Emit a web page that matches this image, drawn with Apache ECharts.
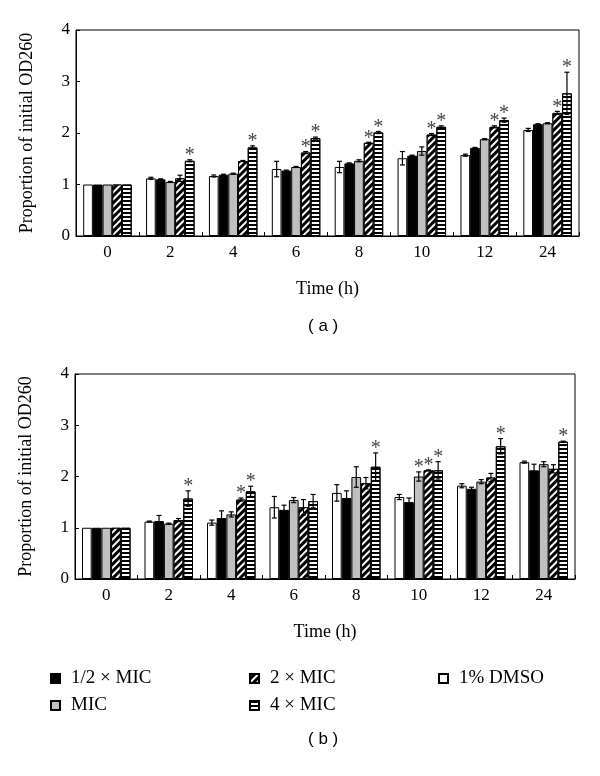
<!DOCTYPE html>
<html>
<head>
<meta charset="utf-8">
<script src="https://cdn.jsdelivr.net/npm/echarts@6/dist/echarts.min.js"></script>
<style>
html,body{margin:0;padding:0;background:#fff;}
#chart{width:600px;height:776px;}
</style>
</head>
<body>
<div id="chart"></div>
<script>
// ---------- data ----------
const categories = ['0', '2', '4', '6', '8', '10', '12', '24'];
const seriesNames = ['1% DMSO', '1/2 × MIC', 'MIC', '2 × MIC', '4 × MIC'];
const yTicks = [0, 1, 2, 3, 4];

// Panel (a)
const aDMSO = [1, 1.12, 1.165, 1.30, 1.34, 1.51, 1.57, 2.06];
const aHalf = [1, 1.10, 1.19, 1.27, 1.41, 1.56, 1.71, 2.17];
const aMIC  = [1, 1.05, 1.21, 1.34, 1.46, 1.65, 1.88, 2.19];
const a2MIC = [1, 1.12, 1.456, 1.62, 1.81, 1.97, 2.12, 2.39];
const a4MIC = [1, 1.46, 1.72, 1.90, 2.01, 2.12, 2.25, 2.77];
const aDMSOErr = [0, 0.02, 0.02, 0.15, 0.11, 0.13, 0.02, 0.03];
const aHalfErr = [0, 0.01, 0.01, 0.01, 0.01, 0.01, 0.01, 0.01];
const aMICErr  = [0, 0.01, 0.01, 0.01, 0.02, 0.08, 0.01, 0.01];
const a2MICErr = [0, 0.06, 0.01, 0.02, 0.01, 0.02, 0.02, 0.03];
const a4MICErr = [0, 0.02, 0.03, 0.02, 0.02, 0.02, 0.04, 0.41];
const aDMSOStar = [0, 0, 0, 0, 0, 0, 0, 0];
const aHalfStar = [0, 0, 0, 0, 0, 0, 0, 0];
const aMICStar  = [0, 0, 0, 0, 0, 0, 0, 0];
const a2MICStar = [0, 0, 0, 1, 1, 1, 1, 1];
const a4MICStar = [0, 1, 1, 1, 1, 1, 1, 1];

// Panel (b)
const bDMSO = [1, 1.12, 1.10, 1.40, 1.68, 1.60, 1.82, 2.28];
const bHalf = [1, 1.13, 1.19, 1.35, 1.58, 1.50, 1.76, 2.12];
const bMIC  = [1, 1.08, 1.26, 1.54, 1.99, 2.00, 1.90, 2.24];
const b2MIC = [1, 1.15, 1.55, 1.40, 1.87, 2.12, 1.98, 2.15];
const b4MIC = [1, 1.57, 1.71, 1.52, 2.19, 2.12, 2.59, 2.68];
const bDMSOErr = [0, 0.01, 0.05, 0.21, 0.16, 0.05, 0.04, 0.02];
const bHalfErr = [0, 0.11, 0.14, 0.09, 0.14, 0.08, 0.03, 0.12];
const bMICErr  = [0, 0.01, 0.05, 0.05, 0.20, 0.09, 0.04, 0.05];
const b2MICErr = [0, 0.03, 0.03, 0.15, 0.11, 0.01, 0.08, 0.08];
const b4MICErr = [0, 0.15, 0.10, 0.13, 0.27, 0.17, 0.15, 0.01];
const bDMSOStar = [0, 0, 0, 0, 0, 0, 0, 0];
const bHalfStar = [0, 0, 0, 0, 0, 0, 0, 0];
const bMICStar  = [0, 0, 0, 0, 0, 1, 0, 0];
const b2MICStar = [0, 0, 1, 0, 0, 1, 0, 0];
const b4MICStar = [0, 1, 1, 0, 1, 1, 1, 1];

// ---------- styles ----------
const SERIF = 'Liberation Serif';
const SANS = 'Liberation Sans';
const BW = 9.7;
const barStyles = [
  { color: '#ffffff', borderColor: '#000', borderWidth: 1 },
  { color: '#000000', borderColor: '#000', borderWidth: 1 },
  { color: '#c0c0c0', borderColor: '#000', borderWidth: 1 },
  { color: '#000000', borderColor: '#000', borderWidth: 1,
    decal: { symbol: 'rect', symbolSize: 1, color: '#ffffff', dashArrayX: [1, 0], dashArrayY: [1.4, 2.6], rotation: -Math.PI / 4 } },
  { color: '#ffffff', borderColor: '#000', borderWidth: 1,
    decal: { symbol: 'rect', symbolSize: 1, color: '#000000', dashArrayX: [1, 0], dashArrayY: [2, 2], rotation: 0 } }
];

const panels = [
  { vals: [aDMSO, aHalf, aMIC, a2MIC, a4MIC],
    errs: [aDMSOErr, aHalfErr, aMICErr, a2MICErr, a4MICErr],
    stars: [aDMSOStar, aHalfStar, aMICStar, a2MICStar, a4MICStar] },
  { vals: [bDMSO, bHalf, bMIC, b2MIC, b4MIC],
    errs: [bDMSOErr, bHalfErr, bMICErr, b2MICErr, b4MICErr],
    stars: [bDMSOStar, bHalfStar, bMICStar, b2MICStar, b4MICStar] }
];

function errSeries(vals, errs, stars, k, g) {
  return {
    type: 'custom', xAxisIndex: g, yAxisIndex: g, z: 10, silent: true,
    data: vals.map((v, i) => [i, v, errs[i], stars[i]]),
    renderItem: function (params, api) {
      const i = api.value(0), v = api.value(1), e = api.value(2), s = api.value(3);
      const c = api.coord([i, v]);
      const x = c[0] + (k - 2) * BW;
      const top = api.coord([i, v + e])[1];
      const bot = api.coord([i, v - e])[1];
      const children = [];
      const ls = { stroke: '#000', lineWidth: 1.2 };
      if (e > 0) {
        children.push({ type: 'line', shape: { x1: x, y1: top, x2: x, y2: bot }, style: ls });
        children.push({ type: 'line', shape: { x1: x - 2.5, y1: top, x2: x + 2.5, y2: top }, style: ls });
        children.push({ type: 'line', shape: { x1: x - 2.5, y1: bot, x2: x + 2.5, y2: bot }, style: ls });
      }
      if (s) {
        children.push({ type: 'text', style: { text: '*', x: x, y: Math.min(top, c[1]) + 6, align: 'center', verticalAlign: 'bottom',
          font: '20px "' + SERIF + '"', fill: '#444' } });
      }
      return { type: 'group', children: children };
    }
  };
}

const series = [];
panels.forEach((p, g) => {
  p.vals.forEach((vals, k) => {
    series.push({
      type: 'bar', name: seriesNames[k], xAxisIndex: g, yAxisIndex: g,
      data: vals, barWidth: BW, barGap: '0%', itemStyle: barStyles[k], silent: true
    });
  });
});
panels.forEach((p, g) => {
  p.vals.forEach((vals, k) => {
    series.push(errSeries(vals, p.errs[k], p.stars[k], k, g));
  });
});

const grids = [
  { left: 76, right: 21, top: 30, height: 206 },
  { left: 75, right: 25, top: 374, height: 205 }
].map(g => Object.assign({ show: true, borderColor: '#000', borderWidth: 1, backgroundColor: 'transparent' }, g));

const xAxes = [0, 1].map(g => ({
  type: 'category', gridIndex: g, data: categories,
  name: 'Time (h)', nameLocation: 'middle', nameGap: 44,
  nameTextStyle: { fontFamily: SERIF, fontSize: 18, color: '#000' },
  axisLine: { lineStyle: { color: '#000', width: 1 } },
  axisTick: { show: true, inside: true, length: 4, interval: 0, lineStyle: { color: '#000' } },
  axisLabel: { fontFamily: SERIF, fontSize: 17, color: '#000', margin: 8, interval: 0 },
  splitLine: { show: false }
}));

const yAxes = [0, 1].map(g => ({
  type: 'value', gridIndex: g, min: yTicks[0], max: yTicks[yTicks.length - 1], interval: 1,
  name: 'Proportion of initial OD260', nameLocation: 'middle', nameGap: 40,
  nameTextStyle: { fontFamily: SERIF, fontSize: 18, color: '#000' },
  axisLine: { show: true, lineStyle: { color: '#000', width: 1 } },
  axisTick: { show: true, inside: true, length: 4, lineStyle: { color: '#000' } },
  axisLabel: { fontFamily: SERIF, fontSize: 17, color: '#000', margin: 6 },
  splitLine: { show: false }
}));

const legendBase = {
  orient: 'vertical', itemWidth: 9, itemHeight: 9, itemGap: 8, icon: 'rect',
  textStyle: { fontFamily: SERIF, fontSize: 19, color: '#000', padding: [0, 0, 0, 6] },
  selectedMode: false
};

const option = {
  animation: false,
  backgroundColor: '#fff',
  grid: grids,
  xAxis: xAxes,
  yAxis: yAxes,
  legend: [
    Object.assign({}, legendBase, { left: 45, top: 664, data: ['1/2 × MIC', 'MIC'] }),
    Object.assign({}, legendBase, { left: 244, top: 664, data: ['2 × MIC', '4 × MIC'] }),
    Object.assign({}, legendBase, { left: 433, top: 664, data: ['1% DMSO'] })
  ],
  graphic: [
    { type: 'text', left: 308, top: 318, style: { text: '( a )', font: '17px "' + SANS + '"', fill: '#000' } },
    { type: 'text', left: 308, top: 731, style: { text: '( b )', font: '17px "' + SANS + '"', fill: '#000' } }
  ],
  series: series
};

const chart = echarts.init(document.getElementById('chart'), null, { renderer: 'canvas' });
chart.setOption(option);
</script>
</body>
</html>
